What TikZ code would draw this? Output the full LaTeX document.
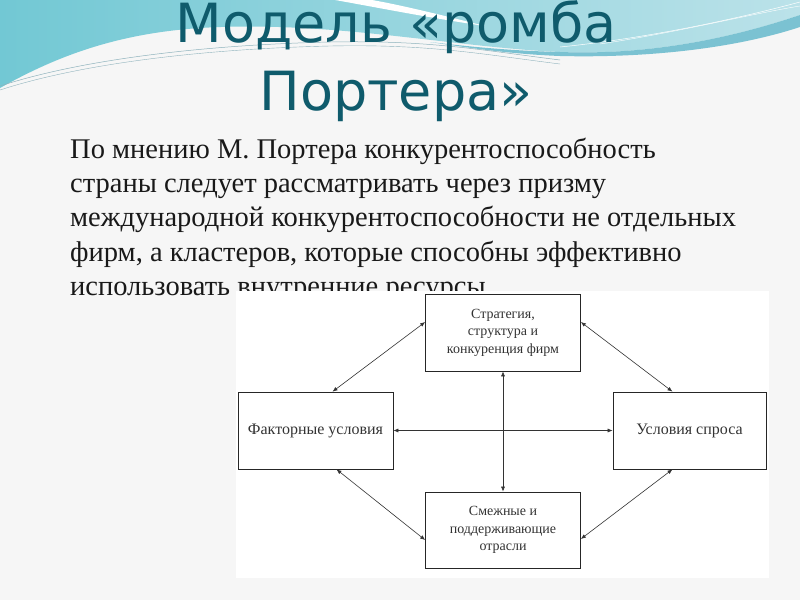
\documentclass[tikz,border=0pt]{standalone}
\usepackage{fontspec}
\setmainfont{Liberation Serif}
\newfontfamily\titlefont{DejaVu Sans}
\usetikzlibrary{arrows.meta, positioning}
\definecolor{slidebg}{HTML}{F6F6F6}
\definecolor{waveleft}{HTML}{72C8D4}
\definecolor{waveright}{HTML}{BBE2E9}
\definecolor{waveteal}{HTML}{5DB6C9}
\definecolor{wavegray}{HTML}{8FB3BD}
\definecolor{titleteal}{HTML}{0F5B6C}
\definecolor{boxtext}{HTML}{333333}

\tikzset{
  titleline/.style={font=\titlefont\fontsize{54}{54}\selectfont,
    text=titleteal, anchor=base, inner sep=0pt},
  factorbox/.style={draw=black!85, line width=0.7pt, fill=white,
    minimum width=155pt, minimum height=77pt, align=center, inner sep=2pt,
    text=boxtext, font=\fontsize{14}{17.5}\selectfont},
  wideword/.style={font=\fontsize{16}{19}\selectfont},
  linkarrow/.style={{Latex[length=5pt,width=4pt]}-{Latex[length=5pt,width=4pt]},
    draw=black!80, line width=0.6pt}
}

\begin{document}
\begin{tikzpicture}[x=1pt, y=-1pt]
  \useasboundingbox (0,0) rectangle (800,600);
  \fill[slidebg] (0,0) rectangle (800,600);

  % wave at the top
  \shade[left color=waveleft, right color=waveright]
    (0,0) -- (800,0) -- (800,15)
    .. controls (720,42) and (640,55) .. (560,52)
    .. controls (450,47) and (330,20) .. (200,28)
    .. controls (110,34) and (50,60) .. (0,88) -- cycle;
  \fill[waveteal, opacity=0.8]
    (430,42) .. controls (480,48) and (520,51) .. (560,52)
    .. controls (640,55) and (720,42) .. (800,15) -- (800,27)
    .. controls (730,50) and (640,58) .. (560,56)
    .. controls (510,54) and (470,48) .. (430,42) -- cycle;
  \fill[white]
    (335,0) .. controls (380,8) and (430,18) .. (485,26)
    .. controls (430,12) and (395,4) .. (372,0) -- cycle;
  \draw[wavegray, line width=0.5pt]
    (0,86) .. controls (80,60) and (200,45) .. (330,42)
    .. controls (430,40) and (480,50) .. (560,60);
  \draw[wavegray, line width=0.4pt]
    (0,90) .. controls (80,64) and (200,49) .. (330,46)
    .. controls (430,44) and (480,54) .. (560,64);
  \draw[white, line width=0.5pt]
    (560,47) .. controls (650,38) and (740,18) .. (800,2);
  \draw[white, line width=0.4pt]
    (600,44) .. controls (680,32) and (750,14) .. (800,6);

  % title
  \node[titleline] (title1) at (396,42) {Модель «ромба};
  \node[titleline] (title2) at (396,110) {Портера»};

  % text (base anchor sits on the last line)
  \node[anchor=base west, align=left, inner sep=0pt,
    font=\fontsize{28.5}{34.2}\selectfont, text=black!90] (lead) at (70,295.3)
    {По мнению М. Портера конкурентоспособность\\
     страны следует рассматривать через призму\\
     международной конкурентоспособности не отдельных\\
     фирм, а кластеров, которые способны эффективно\\
     использовать внутренние ресурсы.};

  % diagram
  \fill[white] (236,291) rectangle (769,578);
  \node[factorbox] (strategy) at (503,332.5)
    {Стратегия,\\структура и\\конкуренция фирм};
  \node[factorbox, wideword] (factor) at (315.5,430.5) {Факторные условия};
  \node[factorbox, wideword, minimum width=153pt] (demand) at (689.5,430.5)
    {Условия спроса};
  \node[factorbox, minimum height=76pt] (related) at (503,530)
    {Смежные и\\поддерживающие\\отрасли};

  \draw[linkarrow] (strategy.south) -- (related.north);
  \draw[linkarrow] (factor.east) -- (demand.west);
  \draw[linkarrow] ([xshift=17pt]factor.north) -- ([yshift=10.5pt]strategy.west);
  \draw[linkarrow] ([yshift=10.5pt]strategy.east) -- ([xshift=-17pt]demand.north);
  \draw[linkarrow] ([xshift=21pt]factor.south) -- ([yshift=-10pt]related.west);
  \draw[linkarrow] ([yshift=-9pt]related.east) -- ([xshift=-17pt]demand.south);
\end{tikzpicture}
\end{document}
